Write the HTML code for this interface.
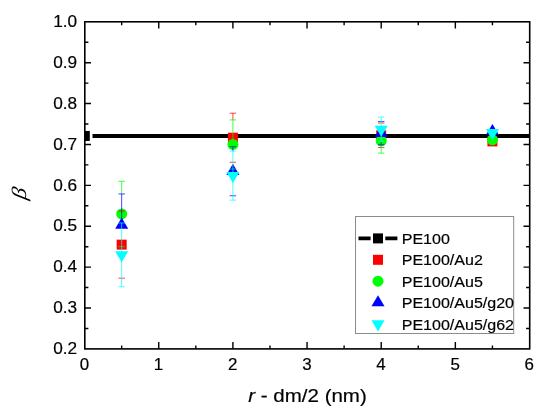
<!DOCTYPE html><html><head><meta charset="utf-8"><title>plot</title>
<style>html,body{margin:0;padding:0;background:#fff}svg{display:block}text{font-family:"Liberation Sans",Arial,sans-serif;fill:#000;stroke:#000;stroke-width:0.18px}</style></head><body>
<svg width="550" height="414" viewBox="0 0 550 414">
<rect width="550" height="414" fill="#fff"/>
<line x1="92.50" y1="135.95" x2="529.70" y2="135.95" stroke="#000" stroke-width="3.9"/>
<rect x="84.10" y="130.95" width="5.7" height="10" fill="#000"/>
<rect x="116.67" y="239.64" width="10" height="10" fill="#ff0000"/>
<rect x="227.90" y="132.72" width="10" height="10" fill="#ff0000"/>
<rect x="376.20" y="130.26" width="10" height="10" fill="#ff0000"/>
<rect x="487.43" y="136.40" width="10" height="10" fill="#ff0000"/>
<circle cx="121.67" cy="213.97" r="5.5" fill="#00ff00"/>
<circle cx="232.90" cy="144.46" r="5.5" fill="#00ff00"/>
<circle cx="381.20" cy="140.91" r="5.5" fill="#00ff00"/>
<circle cx="492.43" cy="139.80" r="5.5" fill="#00ff00"/>
<polygon points="121.67,217.61 128.18,228.71 115.17,228.71" fill="#0000ff"/>
<polygon points="232.90,163.84 239.40,174.94 226.40,174.94" fill="#0000ff"/>
<polygon points="381.20,125.82 387.70,136.92 374.70,136.92" fill="#0000ff"/>
<polygon points="492.43,123.98 498.93,135.08 485.93,135.08" fill="#0000ff"/>
<path d="M118.47 211.11H124.88M118.47 278.16H124.88" stroke="#ff0000" stroke-width="1" fill="none" opacity="0.72"/>
<path d="M121.67 181.26V193.94M118.47 181.26H124.88M118.47 246.68H124.88" stroke="#00ff00" stroke-width="1" fill="none" opacity="0.72"/>
<path d="M121.67 193.94V222.97M118.47 193.94H124.88M118.47 256.09H124.88" stroke="#0000ff" stroke-width="1" fill="none" opacity="0.72"/>
<path d="M121.67 222.97V286.75M118.47 222.97H124.88M118.47 286.75H124.88" stroke="#00ffff" stroke-width="1" fill="none" opacity="0.72"/>
<path d="M232.90 113.18V119.93M229.70 113.18H236.10M229.70 162.25H236.10" stroke="#ff0000" stroke-width="1" fill="none" opacity="0.72"/>
<path d="M232.90 119.93V146.71M229.70 119.93H236.10M229.70 169.00H236.10" stroke="#00ff00" stroke-width="1" fill="none" opacity="0.72"/>
<path d="M232.90 146.71V151.09M229.70 146.71H236.10M229.70 195.78H236.10" stroke="#0000ff" stroke-width="1" fill="none" opacity="0.72"/>
<path d="M232.90 151.09V200.15M229.70 151.09H236.10M229.70 200.15H236.10" stroke="#00ffff" stroke-width="1" fill="none" opacity="0.72"/>
<path d="M378.00 123.00H384.40M378.00 147.53H384.40" stroke="#ff0000" stroke-width="1" fill="none" opacity="0.72"/>
<path d="M381.20 144.87V153.17M378.00 128.64H384.40M378.00 153.17H384.40" stroke="#00ff00" stroke-width="1" fill="none" opacity="0.72"/>
<path d="M381.20 141.60V144.87M378.00 121.57H384.40M378.00 144.87H384.40" stroke="#0000ff" stroke-width="1" fill="none" opacity="0.72"/>
<path d="M381.20 117.07V141.60M378.00 117.07H384.40M378.00 141.60H384.40" stroke="#00ffff" stroke-width="1" fill="none" opacity="0.72"/>
<polygon points="121.67,262.26 128.18,251.16 115.17,251.16" fill="#00ffff"/>
<polygon points="232.90,183.02 239.40,171.92 226.40,171.92" fill="#00ffff"/>
<polygon points="381.20,136.73 387.70,125.63 374.70,125.63" fill="#00ffff"/>
<polygon points="492.43,140.21 498.93,129.11 485.93,129.11" fill="#00ffff"/>
<rect x="84.80" y="21.80" width="444.90" height="327.10" fill="none" stroke="#000" stroke-width="1.6"/>
<path d="M121.67 348.90v-3.4M121.67 21.80v3.4M158.75 348.90v-6.8M158.75 21.80v6.8M195.82 348.90v-3.4M195.82 21.80v3.4M232.90 348.90v-6.8M232.90 21.80v6.8M269.98 348.90v-3.4M269.98 21.80v3.4M307.05 348.90v-6.8M307.05 21.80v6.8M344.12 348.90v-3.4M344.12 21.80v3.4M381.20 348.90v-6.8M381.20 21.80v6.8M418.27 348.90v-3.4M418.27 21.80v3.4M455.35 348.90v-6.8M455.35 21.80v6.8M492.43 348.90v-3.4M492.43 21.80v3.4M84.80 328.46h3.6M529.70 328.46h-3.6M84.80 308.01h6.2M529.70 308.01h-6.2M84.80 287.57h3.6M529.70 287.57h-3.6M84.80 267.12h6.2M529.70 267.12h-6.2M84.80 246.68h3.6M529.70 246.68h-3.6M84.80 226.24h6.2M529.70 226.24h-6.2M84.80 205.79h3.6M529.70 205.79h-3.6M84.80 185.35h6.2M529.70 185.35h-6.2M84.80 164.91h3.6M529.70 164.91h-3.6M84.80 144.46h6.2M529.70 144.46h-6.2M84.80 124.02h3.6M529.70 124.02h-3.6M84.80 103.57h6.2M529.70 103.57h-6.2M84.80 83.13h3.6M529.70 83.13h-3.6M84.80 62.69h6.2M529.70 62.69h-6.2M84.80 42.24h3.6M529.70 42.24h-3.6" stroke="#000" stroke-width="1.4" fill="none"/>
<text transform="translate(84.40,369.6) scale(1.05,1)" font-size="16.1" text-anchor="middle">0</text>
<text transform="translate(158.55,369.6) scale(1.05,1)" font-size="16.1" text-anchor="middle">1</text>
<text transform="translate(232.70,369.6) scale(1.05,1)" font-size="16.1" text-anchor="middle">2</text>
<text transform="translate(306.85,369.6) scale(1.05,1)" font-size="16.1" text-anchor="middle">3</text>
<text transform="translate(381.00,369.6) scale(1.05,1)" font-size="16.1" text-anchor="middle">4</text>
<text transform="translate(455.15,369.6) scale(1.05,1)" font-size="16.1" text-anchor="middle">5</text>
<text transform="translate(529.30,369.6) scale(1.05,1)" font-size="16.1" text-anchor="middle">6</text>
<text transform="translate(77.1,353.80) scale(1.07,1)" font-size="16.1" text-anchor="end">0.2</text>
<text transform="translate(77.1,313.00) scale(1.07,1)" font-size="16.1" text-anchor="end">0.3</text>
<text transform="translate(77.1,272.20) scale(1.07,1)" font-size="16.1" text-anchor="end">0.4</text>
<text transform="translate(77.1,231.40) scale(1.07,1)" font-size="16.1" text-anchor="end">0.5</text>
<text transform="translate(77.1,190.60) scale(1.07,1)" font-size="16.1" text-anchor="end">0.6</text>
<text transform="translate(77.1,149.80) scale(1.07,1)" font-size="16.1" text-anchor="end">0.7</text>
<text transform="translate(77.1,109.00) scale(1.07,1)" font-size="16.1" text-anchor="end">0.8</text>
<text transform="translate(77.1,68.20) scale(1.07,1)" font-size="16.1" text-anchor="end">0.9</text>
<text transform="translate(77.1,27.40) scale(1.07,1)" font-size="16.1" text-anchor="end">1.0</text>
<text x="248.3" y="401.6" font-size="18.7" textLength="118.5" lengthAdjust="spacingAndGlyphs"><tspan font-style="italic">r</tspan> - dm/2 (nm)</text>
<text transform="translate(26.1,194.6) rotate(-90) skewX(-11.5) scale(1.1,0.975)" font-size="21" text-anchor="middle" style="stroke:none;font-family:'Liberation Serif','DejaVu Serif',serif;font-style:italic">β</text>
<rect x="355.5" y="216.5" width="158.2" height="117" fill="#fff" stroke="#8c8c8c" stroke-width="1"/>
<path d="M358.5 238.4H370.6M385.3 238.4H397.4" stroke="#000" stroke-width="3.9"/>
<rect x="373" y="233.4" width="10" height="10" fill="#000"/>
<rect x="373.00" y="254.80" width="10" height="10" fill="#ff0000"/>
<circle cx="378.00" cy="281.20" r="5.5" fill="#00ff00"/>
<polygon points="378.00,295.20 384.50,306.30 371.50,306.30" fill="#0000ff"/>
<polygon points="378.00,331.40 384.50,320.30 371.50,320.30" fill="#00ffff"/>
<text transform="translate(401.7,243.90) scale(1.07,1)" font-size="15">PE100</text>
<text transform="translate(401.7,265.30) scale(1.07,1)" font-size="15">PE100/Au2</text>
<text transform="translate(401.7,286.70) scale(1.07,1)" font-size="15">PE100/Au5</text>
<text transform="translate(401.7,308.10) scale(1.07,1)" font-size="15">PE100/Au5/g20</text>
<text transform="translate(401.7,329.50) scale(1.07,1)" font-size="15">PE100/Au5/g62</text>
</svg></body></html>
